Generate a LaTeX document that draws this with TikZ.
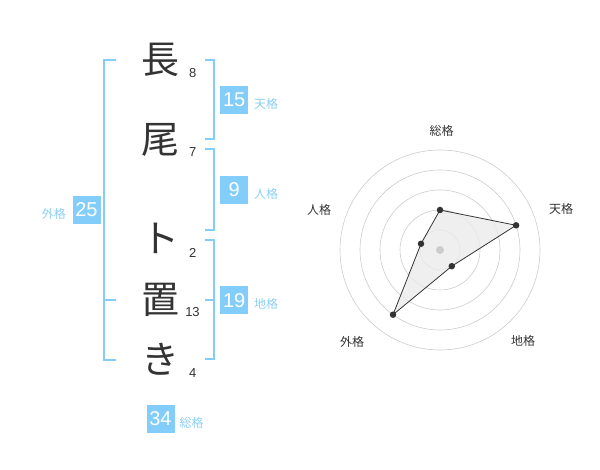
\documentclass[tikz,border=0pt]{standalone}
\usepackage{fontspec}
\setmainfont{Liberation Sans}
\newfontfamily\jp{Noto Sans CJK JP}
\definecolor{skyb}{HTML}{82CDFA}
\definecolor{skyl}{HTML}{8DCFF5}
\definecolor{ink}{HTML}{333333}
\definecolor{ring}{HTML}{CCCCCC}
\tikzset{
  kanji/.style={inner sep=0pt, font=\jp\fontsize{38}{38}\selectfont, text=ink},
  strokes/.style={inner sep=0pt, font=\fontsize{13}{13}\selectfont, text=ink},
  valbox/.style={fill=skyb, minimum width=28pt, minimum height=28pt, inner sep=0pt, text=white, font=\fontsize{20}{20}\selectfont},
  kaku/.style={inner sep=0pt, font=\jp\fontsize{12}{12}\selectfont, text=skyl},
  brk/.style={draw=skyb, line width=2pt},
  rlabel/.style={inner sep=0pt, font=\jp\fontsize{12}{12}\selectfont, text=ink},
  ringc/.style={draw=ring, line width=0.6pt},
  dot/.style={circle, fill=ink, inner sep=0pt, minimum size=6.5pt},
}
\begin{document}
\begin{tikzpicture}[x=1pt,y=-1pt]
\useasboundingbox (0,0) rectangle (600,470);
% name characters
\node[kanji] (c1) at (160.5,60) {長};
\node[kanji] (c2) at (160.5,140) {尾};
\node[kanji] (c3) at (160.5,238) {ト};
\node[kanji] (c4) at (160.5,300) {置};
\node[kanji] (c5) at (160.5,359) {き};
% stroke counts
\node[strokes] (n1) at (192.7,73) {8};
\node[strokes] (n2) at (192.7,152.5) {7};
\node[strokes] (n3) at (192.7,252.5) {2};
\node[strokes] (n4) at (192.5,312.5) {13};
\node[strokes] (n5) at (192.7,373) {4};
% brackets
\draw[brk] (205,60) -- (214,60) -- (214,139) -- (205,139);
\draw[brk] (205,149) -- (214,149) -- (214,230) -- (205,230);
\draw[brk] (205,240) -- (214,240) -- (214,359) -- (205,359);
\draw[brk] (205,300) -- (214,300);
\draw[brk] (116,60) -- (104,60) -- (104,360) -- (116,360);
\draw[brk] (104,300) -- (116,300);
% value boxes and labels
\node[valbox] (ten) at (234.2,100) {15};
\node[kaku, anchor=west] (tenl) at (254,103.5) {天格};
\node[valbox] (jin) at (234.2,190) {9};
\node[kaku, anchor=west] (jinl) at (254,193.5) {人格};
\node[valbox] (chi) at (234.2,300.5) {19};
\node[kaku, anchor=west] (chil) at (254,304) {地格};
\node[valbox] (gai) at (86.5,210) {25};
\node[kaku, anchor=east] (gail) at (66,213.5) {外格};
\node[valbox] (sou) at (160.5,419) {34};
\node[kaku, anchor=west] (soul) at (179.5,423) {総格};
% radar chart
\coordinate (rc) at (440,250);
\foreach \r in {20,40,60,80,100} \draw[ringc] (rc) circle[radius=\r];
\coordinate (ps) at (440,210);
\coordinate (pt) at (516.1,225.3);
\coordinate (pc) at (451.8,266.2);
\coordinate (pg) at (393,314.7);
\coordinate (pj) at (421,243.8);
\fill[black!8, opacity=0.8] (ps) -- (pt) -- (pc) -- (pg) -- (pj) -- cycle;
\draw[ink, line width=0.8pt] (ps) -- (pt) -- (pc) -- (pg) -- (pj) -- cycle;
\fill[ring] (rc) circle[radius=4];
\foreach \p in {ps,pt,pc,pg,pj} \node[dot] at (\p) {};
\node[rlabel] (ls) at (441.5,131) {総格};
\node[rlabel] (lt) at (561,209) {天格};
\node[rlabel] (lc) at (523,341) {地格};
\node[rlabel] (lg) at (352,342) {外格};
\node[rlabel] (lj) at (319,210) {人格};
\end{tikzpicture}
\end{document}
